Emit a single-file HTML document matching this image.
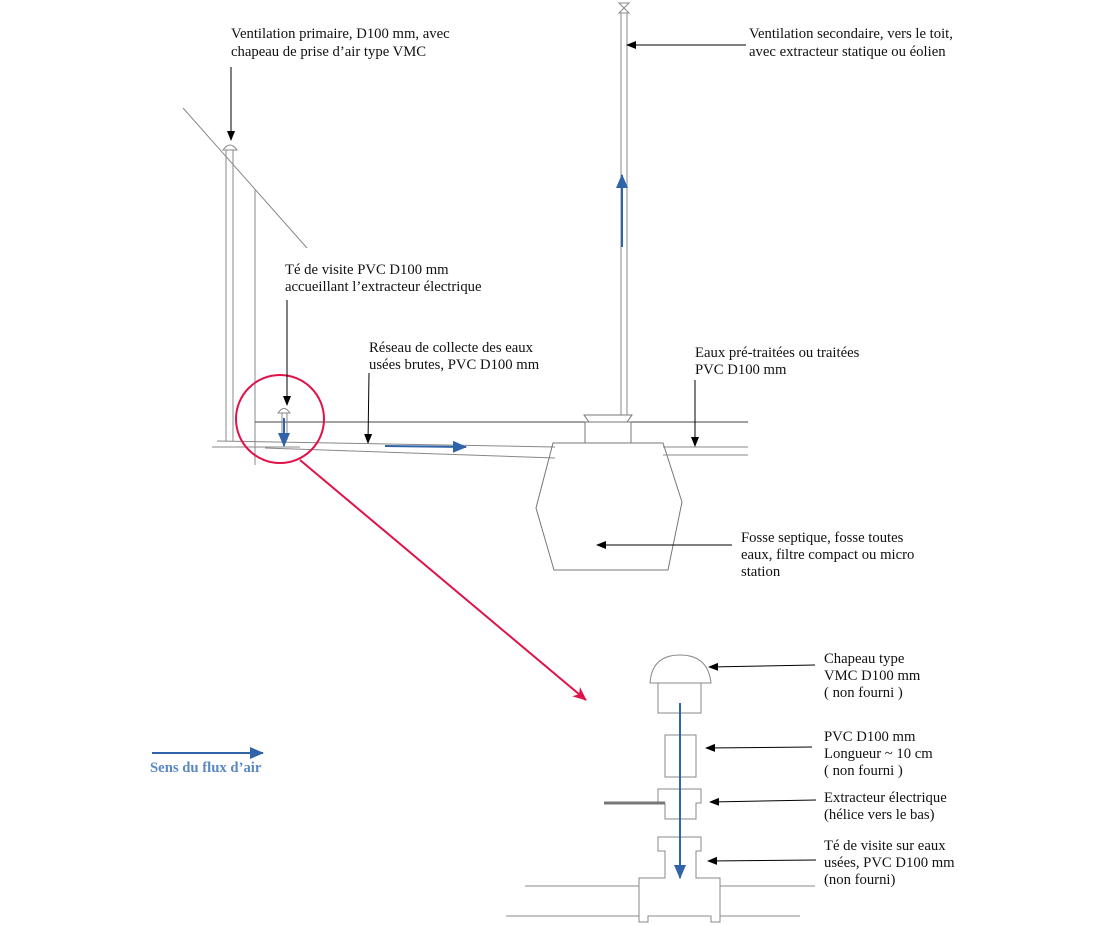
<!DOCTYPE html>
<html><head><meta charset="utf-8"><style>
html,body{margin:0;padding:0;background:#fff;}
svg{display:block;}
text{font-family:"Liberation Serif",serif;font-size:14.7px;fill:#111;}
</style></head><body>
<svg width="1104" height="926" viewBox="0 0 1104 926" xmlns="http://www.w3.org/2000/svg">
<defs>
<marker id="ak" markerWidth="10" markerHeight="10" refX="9" refY="5" orient="auto" markerUnits="userSpaceOnUse"><path d="M0,1 L10,5 L0,9 z" fill="#000"/></marker>
<marker id="ab" markerWidth="14" markerHeight="12" refX="13" refY="6" orient="auto" markerUnits="userSpaceOnUse"><path d="M0,0 L14,6 L0,12 z" fill="#2f64a8"/></marker>
<marker id="ar" markerWidth="14" markerHeight="12" refX="13" refY="6" orient="auto" markerUnits="userSpaceOnUse"><path d="M0,0 L14,6 L0,12 L4,6 z" fill="#e0124a"/></marker>
</defs>
<g stroke="#888" fill="none" stroke-width="1">
<line x1="183" y1="108" x2="307" y2="248"/>
<line x1="226" y1="150" x2="226" y2="441"/>
<line x1="233" y1="150" x2="233" y2="441"/>
<path d="M223,150 Q230,140 237,150 Z"/>
<line x1="255" y1="190" x2="255" y2="465"/>
<line x1="255" y1="422" x2="748" y2="422" stroke="#444"/>
<line x1="212" y1="447" x2="300" y2="447"/>
<line x1="217" y1="441" x2="555" y2="447"/>
<line x1="265" y1="448" x2="555" y2="458"/>
<path d="M278,413 Q284,404 290,413 Z"/>
<line x1="282" y1="413" x2="282" y2="440"/>
<line x1="287" y1="413" x2="287" y2="440"/>
<polygon points="553,443 663,443 682,502 668,570 554,570 536,508" stroke="#777"/>
<rect x="585" y="422" width="46" height="21" stroke="#777"/>
<polygon points="584,415 632,415 627,422 589,422" stroke="#777"/>
<line x1="621" y1="13" x2="621" y2="415"/>
<line x1="627" y1="13" x2="627" y2="415"/>
<path d="M619,3 L629,3 L619,13 L629,13 Z"/>
<line x1="663" y1="447" x2="748" y2="447"/>
<line x1="663" y1="455" x2="748" y2="455"/>
<path d="M650,683 Q652,655 680,655 Q708,655 711,683 Z"/>
<rect x="658" y="683" width="43" height="30"/>
<rect x="665" y="735" width="31" height="42"/>
<path d="M658,789 H701 V803 H696 V819 H665 V803 H658 Z"/>
<path d="M658,837 H701 V851 H696 V878 H720 V922 H711 V916 H648 V922 H639 V878 H665 V851 H658 Z"/>
<line x1="525" y1="886" x2="639" y2="886"/>
<line x1="720" y1="886" x2="815" y2="886"/>
<line x1="506" y1="916" x2="639" y2="916"/>
<line x1="720" y1="916" x2="800" y2="916"/>
</g>
<line x1="604" y1="803" x2="665" y2="803" stroke="#777" stroke-width="3"/>
<g stroke="#2f64a8" stroke-width="2" fill="none">
<line x1="385" y1="446" x2="466" y2="447" marker-end="url(#ab)"/>
<line x1="284" y1="418" x2="284" y2="446" marker-end="url(#ab)"/>
<line x1="622" y1="247" x2="622" y2="175" marker-end="url(#ab)"/>
<line x1="680" y1="703" x2="680" y2="878" marker-end="url(#ab)"/>
<line x1="152" y1="753" x2="263" y2="753" marker-end="url(#ab)"/>
</g>
<circle cx="280" cy="419" r="44" stroke="#e0124a" stroke-width="2" fill="none"/>
<line x1="300" y1="460" x2="586" y2="700" stroke="#e0124a" stroke-width="2" marker-end="url(#ar)"/>
<g stroke="#000" stroke-width="1" fill="none">
<line x1="231" y1="67" x2="231" y2="140" marker-end="url(#ak)"/>
<line x1="746" y1="45" x2="627" y2="45" marker-end="url(#ak)"/>
<line x1="287" y1="300" x2="287" y2="405" marker-end="url(#ak)"/>
<line x1="369" y1="373" x2="368" y2="443" marker-end="url(#ak)"/>
<line x1="695" y1="380" x2="695" y2="446" marker-end="url(#ak)"/>
<line x1="732" y1="545" x2="597" y2="545" marker-end="url(#ak)"/>
<line x1="815" y1="665" x2="709" y2="667" marker-end="url(#ak)"/>
<line x1="812" y1="747" x2="706" y2="748" marker-end="url(#ak)"/>
<line x1="816" y1="800" x2="710" y2="802" marker-end="url(#ak)"/>
<line x1="816" y1="860" x2="708" y2="861" marker-end="url(#ak)"/>
</g>
<text x="231" y="38">Ventilation primaire, D100 mm, avec</text>
<text x="231" y="56">chapeau de prise d’air type VMC</text>
<text x="749" y="38">Ventilation secondaire, vers le toit,</text>
<text x="749" y="56">avec extracteur statique ou éolien</text>
<text x="285" y="274">Té de visite PVC D100 mm</text>
<text x="285" y="291">accueillant l’extracteur électrique</text>
<text x="369" y="352">Réseau de collecte des eaux</text>
<text x="369" y="369">usées brutes, PVC D100 mm</text>
<text x="695" y="357">Eaux pré-traitées ou traitées</text>
<text x="695" y="374">PVC D100 mm</text>
<text x="741" y="542">Fosse septique, fosse toutes</text>
<text x="741" y="559">eaux, filtre compact ou micro</text>
<text x="741" y="576">station</text>
<text x="824" y="663">Chapeau type</text>
<text x="824" y="680">VMC D100 mm</text>
<text x="824" y="697">( non fourni )</text>
<text x="824" y="741">PVC D100 mm</text>
<text x="824" y="758">Longueur ~ 10 cm</text>
<text x="824" y="775">( non fourni )</text>
<text x="824" y="802">Extracteur électrique</text>
<text x="824" y="819">(hélice vers le bas)</text>
<text x="824" y="850">Té de visite sur eaux</text>
<text x="824" y="867">usées, PVC D100 mm</text>
<text x="824" y="884">(non fourni)</text>
<text x="150" y="772" style="font-weight:bold;fill:#5b87c5;">Sens du flux d’air</text>
</svg>
</body></html>
